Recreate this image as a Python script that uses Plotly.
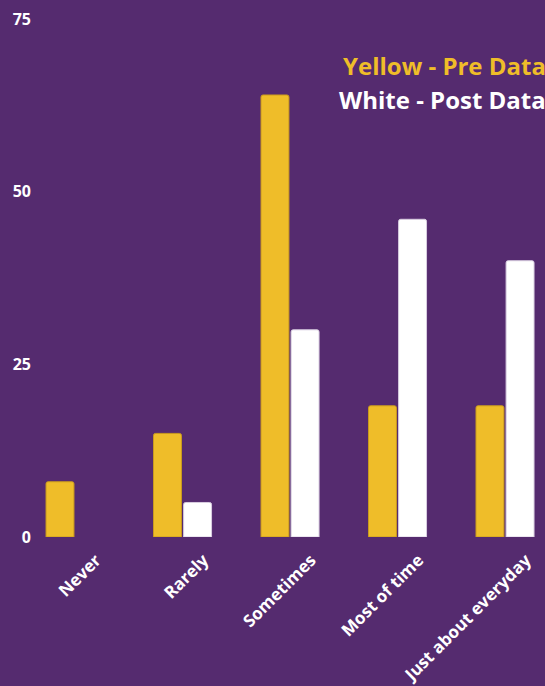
import plotly.graph_objects as go

categories = ["Never", "Rarely", "Sometimes", "Most of time", "Just about everyday"]
pre_values = [8, 15, 64, 19, 19]
post_values = [0, 5, 30, 46, 40]
y_ticks = [0, 25, 50, 75]

BG = "#552b6f"
YEL = "#efbd29"
FONT = "Open Sans"

fig = go.Figure()
fig.add_trace(go.Bar(x=categories, y=pre_values, name="Pre",
                     marker=dict(color=YEL, line=dict(color="#c99a1e", width=1), cornerradius=2),
                     offset=-0.27, width=0.26))
fig.add_trace(go.Bar(x=categories, y=post_values, name="Post",
                     marker=dict(color="#ffffff",
                                 line=dict(color="#d8cde0", width=[0 if v == 0 else 1 for v in post_values]),
                                 cornerradius=2),
                     offset=0.01, width=0.26))

fig.update_layout(
    width=545, height=686,
    margin=dict(l=40, r=0, t=19, b=149),
    paper_bgcolor=BG, plot_bgcolor=BG,
    showlegend=False,
    font=dict(family=FONT, color="white"),
    xaxis=dict(range=[-0.326, 4.372], tickangle=-45, showgrid=False, zeroline=False, showline=False,
               tickfont=dict(family=FONT, size=17, color="white", weight="bold"), ticks="",
               ticklabelshift=21, ticklabelstandoff=9),
    yaxis=dict(range=[0, 75], tickvals=y_ticks, showgrid=False, zeroline=False, showline=False,
               tickfont=dict(family=FONT, size=16, color="white", weight="bold"), ticks="",
               ticklabelstandoff=8),
    annotations=[
        dict(text="Yellow - Pre Data", x=1.0, y=0.91, xref="paper", yref="paper", xanchor="right", yanchor="middle",
             xshift=3, showarrow=False, font=dict(family=FONT, size=24, color=YEL, weight="bold")),
        dict(text="White - Post Data", x=1.0, y=0.844, xref="paper", yref="paper", xanchor="right", yanchor="middle",
             xshift=3, showarrow=False, font=dict(family=FONT, size=24, color="white", weight="bold")),
    ],
)

fig.write_html("out.html")
